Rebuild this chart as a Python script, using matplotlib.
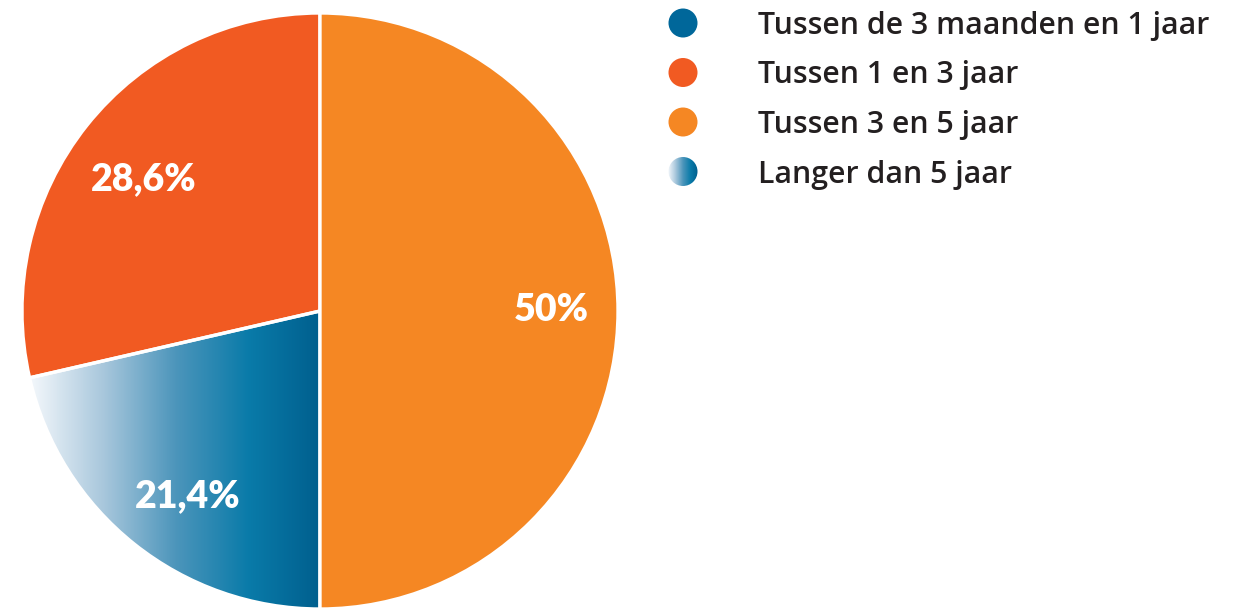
import numpy as np
import matplotlib.pyplot as plt
from matplotlib.colors import LinearSegmentedColormap
from matplotlib.patches import Circle

categories = ['Tussen de 3 maanden en 1 jaar', 'Tussen 1 en 3 jaar',
              'Tussen 3 en 5 jaar', 'Langer dan 5 jaar']
values = [0.0, 28.6, 50.0, 21.4]
labels = ['0%', '28,6%', '50%', '21,4%']
colors = ['#00679a', '#f15a22', '#f58723', None]   # None -> gradient

# order of wedges counter-clockwise from the top
pie_order = [1, 3, 2]

blue_grad = LinearSegmentedColormap.from_list(
    'bg', ['#f3f7fb', '#a8c7dc', '#4c95bb', '#0a7ba9', '#005f8e'])

W, H = 1248, 609
fig = plt.figure(figsize=(W / 100, H / 100), dpi=100)
cx, cy, R = 320, 298, 298
ax = fig.add_axes([(cx - R) / W, (cy - R) / H, 2 * R / W, 2 * R / H])

vals = [values[i] for i in pie_order]
cols = [colors[i] if colors[i] else 'none' for i in pie_order]
wedges, _ = ax.pie(vals, colors=cols, startangle=90, counterclock=True,
                   radius=1, wedgeprops=dict(edgecolor='white', linewidth=2.4))
ax.set_xlim(-1, 1)
ax.set_ylim(-1, 1)
ax.set_aspect('auto')

grad = np.linspace(0, 1, 256).reshape(1, -1)
for w, i in zip(wedges, pie_order):
    if colors[i] is None:
        im = ax.imshow(grad, cmap=blue_grad, extent=[-0.97, 0, -1, 0.2],
                       aspect='auto', zorder=w.get_zorder() - 0.1)
        im.set_clip_path(w)
        ax.set_xlim(-1, 1)
        ax.set_ylim(-1, 1)

for w, i in zip(wedges, pie_order):
    ang = np.deg2rad((w.theta1 + w.theta2) / 2 + 1.5)
    r = 0.76
    ax.text(r * np.cos(ang) + 0.015, r * np.sin(ang) - 0.015, labels[i],
            color='white', fontsize=27, fontweight='heavy', family='Lato',
            ha='center', va='center')

# legend
lax = fig.add_axes([0, 0, 1, 1])
lax.set_xlim(0, W)
lax.set_ylim(H, 0)
lax.axis('off')
lgrad = np.linspace(0, 1, 64).reshape(1, -1)
for k, (name, col) in enumerate(zip(categories, colors)):
    y = 23 + k * 49.5
    if col is None:
        c = Circle((683, y), 14.5, facecolor='none', edgecolor='none')
        lax.add_patch(c)
        im = lax.imshow(lgrad, cmap=blue_grad, extent=[668, 698, y + 15, y - 15],
                        aspect='auto')
        im.set_clip_path(c)
    else:
        lax.add_patch(Circle((683, y), 14.5, facecolor=col, edgecolor='none'))
    lax.text(758, y + 3, name, fontsize=21.8, fontweight='semibold',
             family='Open Sans', color='#231f20', ha='left', va='center')
lax.set_xlim(0, W)
lax.set_ylim(H, 0)

fig.savefig('out.png', dpi=100)
